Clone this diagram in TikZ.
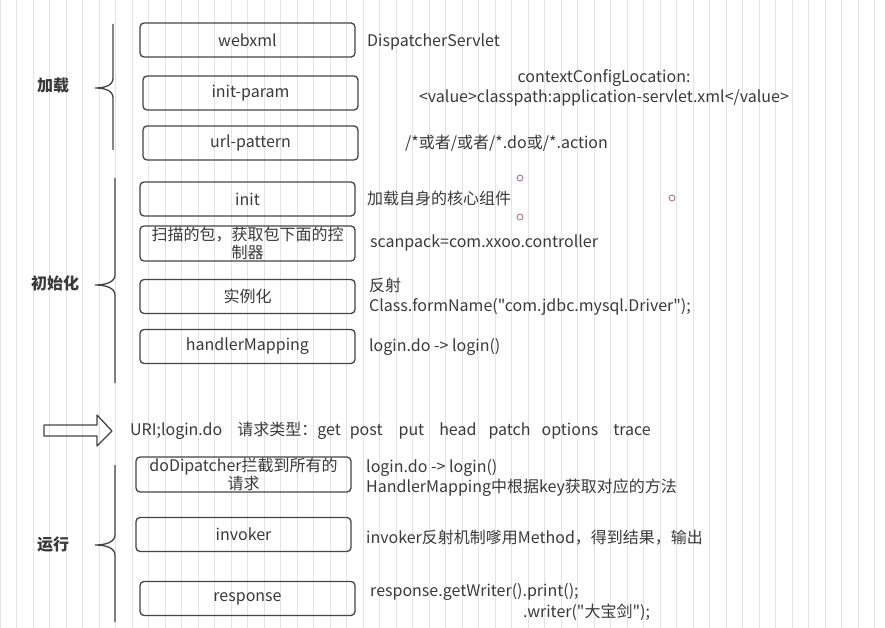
\documentclass[tikz,border=0pt]{standalone}
\usepackage{fontspec}
\setmainfont{Noto Sans CJK SC}[Ligatures=TeXOff]
\usepackage{xcolor}
\definecolor{ink}{HTML}{3A3A3A}
\definecolor{edge}{HTML}{444444}
\definecolor{handle}{HTML}{A86878}
\tikzset{
  stage/.style={draw=edge, line width=1.3pt, rounded corners=4pt, minimum width=215pt,
    minimum height=34pt, inner sep=0pt, text=ink, align=center,
    font=\fontsize{16}{18}\selectfont},
  note/.style={anchor=west, inner sep=0pt, text=ink, align=left,
    font=\fontsize{16}{19.5}\selectfont},
  phase/.style={inner sep=0pt, text=ink, font=\fontsize{16}{18}\selectfont\bfseries},
  brace/.style={draw=edge, line width=1.3pt},
}
\begin{document}
\begin{tikzpicture}[x=1pt, y=-1pt]
        \useasboundingbox (0,0) rectangle (885,628);
        \fill[white] (0,0) rectangle (885,628);
        \draw[black!11, line width=0.4pt, step=16.5] (0,0) grid (885,628);

        % Phase labels
        \node[phase] (load) at (53, 86) {加载};
        \node[phase] (setup) at (55, 283) {初始化};
        \node[phase] (run) at (53, 545) {运行};

        % Braces
        \draw[brace] (113,24) -- (113,78) .. controls (113,85) and (106,88) .. (95,88)
          .. controls (106,88) and (113,91) .. (113,98) -- (113,150);
        \draw[brace] (115,178) -- (115,275) .. controls (115,282) and (106,285) .. (95,285)
          .. controls (106,285) and (115,288) .. (115,295) -- (115,383);
        \draw[brace] (115,465) -- (115,535) .. controls (115,542) and (106,545) .. (95,545)
          .. controls (106,545) and (115,548) .. (115,555) -- (115,622);

        % Boxes
        \node[stage] (webxml) at (247.5, 40) {webxml};
        \node[stage] (param) at (250.5, 93) {init-param};
        \node[stage] (pattern) at (250.5, 143) {url-pattern};
        \node[stage] (init) at (247.5, 199) {init};
        \node[stage, minimum height=35pt] (scan) at (247.5, 243.5) {扫描的包，获取包下面的控\\制器};
        \node[stage] (inst) at (247.5, 296.5) {实例化};
        \node[stage] (hmap) at (247.5, 346.5) {handlerMapping};
        \node[stage, minimum height=35pt] (dispatch) at (243.5, 474.5) {doDipatcher拦截到所有的\\请求};
        \node[stage] (invoker) at (243.5, 534.5) {invoker};
        \node[stage] (response) at (247.5, 598.5) {response};

        % Notes
        \node[note] (servlet) at (367, 42) {DispatcherServlet};
        \node[note, anchor=center, align=center] (config) at (604, 88) {contextConfigLocation:\\<value>classpath:application-servlet.xml</value>};
        \node[note] (urls) at (405, 143) {/*或者/或者/*.do或/*.action};
        \node[note] (core) at (367, 198) {加载自身的核心组件};
        \node[note] (pack) at (370, 243) {scanpack=com.xxoo.controller};
        \node[note] (reflect) at (369, 296.5) {反射\\Class.formName("com.jdbc.mysql.Driver");};
        \node[note] (login) at (369, 347) {login.do -> login()};
        \node[note] (lookup) at (366, 478) {login.do -> login()\\HandlerMapping中根据key获取对应的方法};
        \node[note] (method) at (366, 538) {invoker反射机制嗲用Method，得到结果，输出};
        \node[note] (print) at (370, 592) {response.getWriter().print();};
        \node[note] (writer) at (523, 612) {.writer("大宝剑");};

        % Request
        \draw[edge, line width=1.3pt, line join=round] (44,425) -- (97,425) -- (97,415) -- (112,431)
          -- (97,446) -- (97,436) -- (44,436) -- cycle;
        \node[note] (request) at (130, 431) {URI;login.do\hspace{15pt}请求类型：get\hspace{9pt}post\hspace{16pt}put\hspace{15pt}head\hspace{12pt}patch\hspace{11pt}options\hspace{15pt}trace};

        % Handles
        \foreach \hx/\hy in {520/178, 520/217, 672/198}
          \draw[handle, line width=0.8pt] (\hx,\hy) circle (3pt);
    \end{tikzpicture}
\end{document}
